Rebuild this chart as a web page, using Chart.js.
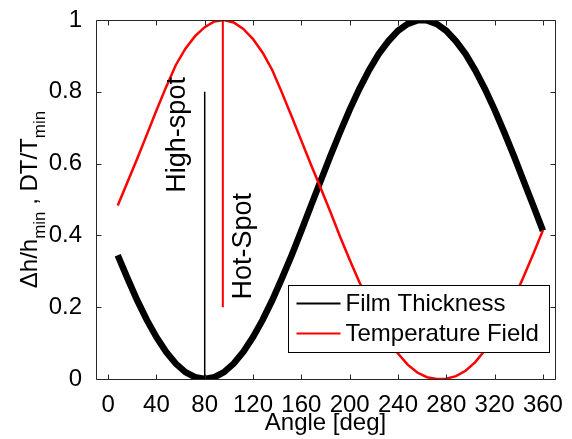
<!DOCTYPE html>
<html>
<head>
<meta charset="utf-8">
<script src="https://cdn.jsdelivr.net/npm/chart.js@4.4.0/dist/chart.umd.min.js"></script>
<style>
    body { margin: 0; background: #fff; }
</style>
</head>
<body>
<canvas id="thicknessChart" width="572" height="439"></canvas>
<script>
// --- DATA ---
const angles = [8, 16, 24, 32, 40, 48, 56, 64, 72, 80, 88, 96, 104, 112, 120, 128, 136, 144, 152, 160,
    168, 176, 184, 192, 200, 208, 216, 224, 232, 240, 248, 256, 264, 272, 280, 288, 296, 304, 312, 320,
    328, 336, 344, 352, 360];
const filmThickness = [0.345, 0.281, 0.220, 0.165, 0.117, 0.076, 0.043, 0.019, 0.005, 0.000, 0.005, 0.019,
    0.043, 0.076, 0.117, 0.165, 0.220, 0.281, 0.345, 0.413, 0.483, 0.552, 0.621, 0.687, 0.750, 0.808,
    0.860, 0.905, 0.941, 0.970, 0.989, 0.999, 0.999, 0.989, 0.970, 0.941, 0.905, 0.860, 0.808, 0.750,
    0.687, 0.621, 0.552, 0.483, 0.413];
const temperatureField = [0.483, 0.548, 0.613, 0.680, 0.748, 0.813, 0.874, 0.920, 0.955, 0.980, 0.996, 1.000,
    0.993, 0.975, 0.947, 0.909, 0.860, 0.797, 0.731, 0.664, 0.597, 0.532, 0.466, 0.397, 0.332, 0.270,
    0.211, 0.157, 0.110, 0.071, 0.040, 0.018, 0.005, 0.000, 0.001, 0.008, 0.023, 0.047, 0.080, 0.121,
    0.170, 0.225, 0.285, 0.348, 0.414];
const highSpotX = [80, 80];
const highSpotY = [0, 0.8];
const hotSpotX = [95, 95];
const hotSpotY = [0.2, 1];
const xTicks = [0, 40, 80, 120, 160, 200, 240, 280, 320, 360];
const yTicks = [0, 0.2, 0.4, 0.6, 0.8, 1];
const yTickLabels = ['0', '0.2', '0.4', '0.6', '0.8', '1'];

const FONT = 'Liberation Sans, Arial, sans-serif';

function pairs(xs, ys) {
    return xs.map((x, i) => ({ x: x, y: ys[i] }));
}

// --- box with inward ticks on all four sides ---
const frame = {
    id: 'frame',
    afterDatasetsDraw(chart) {
        const { ctx, chartArea: a, scales: { x, y } } = chart;
        const l = Math.round(a.left) + 0.5, r = Math.round(a.right) + 0.5;
        const t = Math.round(a.top) + 0.5, b = Math.round(a.bottom) + 0.5;
        ctx.save();
        ctx.strokeStyle = '#262626';
        ctx.lineWidth = 1;
        ctx.beginPath();
        ctx.rect(l, t, r - l, b - t);
        xTicks.forEach(v => {
            const px = Math.round(x.getPixelForValue(v)) + 0.5;
            ctx.moveTo(px, b); ctx.lineTo(px, b - 5);
            ctx.moveTo(px, t); ctx.lineTo(px, t + 5);
        });
        yTicks.forEach(v => {
            const py = Math.round(y.getPixelForValue(v)) + 0.5;
            ctx.moveTo(l, py); ctx.lineTo(l + 5, py);
            ctx.moveTo(r, py); ctx.lineTo(r - 5, py);
        });
        ctx.stroke();

        // rotated notes next to the two marker lines
        const notes = [
            { text: 'High-spot', x: 64, y: 0.68 },
            { text: 'Hot-Spot', x: 118, y: 0.37 }
        ];
        ctx.fillStyle = '#000';
        ctx.font = '27px ' + FONT;
        ctx.textAlign = 'center';
        ctx.textBaseline = 'alphabetic';
        notes.forEach(n => {
            ctx.save();
            ctx.translate(x.getPixelForValue(n.x), y.getPixelForValue(n.y));
            ctx.rotate(-Math.PI / 2);
            ctx.fillText(n.text, 0, 0);
            ctx.restore();
        });
        ctx.restore();
    }
};

// --- legend box inside the plot, bottom right ---
const boxLegend = {
    id: 'boxLegend',
    afterDraw(chart) {
        const ctx = chart.ctx;
        const bx = 288.5, by = 285.5, bw = 261, bh = 67;
        ctx.save();
        ctx.fillStyle = '#fff';
        ctx.fillRect(bx, by, bw, bh);
        ctx.strokeStyle = '#000';
        ctx.lineWidth = 1;
        ctx.strokeRect(bx, by, bw, bh);
        ctx.font = '24px ' + FONT;
        ctx.textBaseline = 'middle';
        chart.data.datasets.filter(d => d.label).forEach((d, i) => {
            const ly = by + 18 + i * 30;
            ctx.strokeStyle = d.borderColor;
            ctx.lineWidth = 2;
            ctx.beginPath();
            ctx.moveTo(bx + 8, ly);
            ctx.lineTo(bx + 52, ly);
            ctx.stroke();
            ctx.fillStyle = '#000';
            ctx.fillText(d.label, bx + 57, ly + 1);
        });
        ctx.restore();
    }
};

// --- y title with subscripts ---
const yTitle = {
    id: 'yTitle',
    afterDraw(chart) {
        const ctx = chart.ctx;
        const parts = [['\u0394h/h', false], ['min', true], [' , DT/T', false], ['min', true]];
        const mainFont = '24px ' + FONT, subFont = '17px ' + FONT;
        ctx.save();
        let total = 0;
        parts.forEach(p => { ctx.font = p[1] ? subFont : mainFont; total += ctx.measureText(p[0]).width; });
        ctx.translate(37, (chart.chartArea.top + chart.chartArea.bottom) / 2);
        ctx.rotate(-Math.PI / 2);
        ctx.fillStyle = '#000';
        ctx.textBaseline = 'alphabetic';
        let pos = -total / 2;
        parts.forEach(p => {
            ctx.font = p[1] ? subFont : mainFont;
            ctx.fillText(p[0], pos, p[1] ? 8 : 0);
            pos += ctx.measureText(p[0]).width;
        });
        ctx.restore();
    }
};

document.addEventListener('DOMContentLoaded', function() {
    const ctx = document.getElementById('thicknessChart').getContext('2d');
    new Chart(ctx, {
        type: 'scatter',
        data: {
            datasets: [{
                label: 'Film Thickness',
                data: pairs(angles, filmThickness),
                showLine: true,
                borderColor: '#000000',
                borderWidth: 6.5,
                pointRadius: 0,
                clip: 0,
                order: 3
            }, {
                label: 'Temperature Field',
                data: pairs(angles, temperatureField),
                showLine: true,
                borderColor: '#ff0000',
                borderWidth: 2.5,
                pointRadius: 0,
                clip: 0,
                order: 2
            }, {
                data: pairs(highSpotX, highSpotY),
                showLine: true,
                borderColor: '#000000',
                borderWidth: 1.5,
                pointRadius: 0,
                order: 1
            }, {
                data: pairs(hotSpotX, hotSpotY),
                showLine: true,
                borderColor: '#ff0000',
                borderWidth: 2,
                pointRadius: 0,
                order: 0
            }]
        },
        options: {
            responsive: false,
            animation: false,
            layout: { padding: { top: 20, right: 17, left: 0, bottom: 0 } },
            plugins: { legend: { display: false }, tooltip: { enabled: false } },
            scales: {
                x: {
                    type: 'linear',
                    min: -10,
                    max: 370,
                    grid: { display: false },
                    border: { display: false },
                    afterBuildTicks: function(s) { s.ticks = xTicks.map(v => ({ value: v })); },
                    ticks: { color: '#000', font: { size: 24, family: FONT }, padding: 4, maxRotation: 0, autoSkip: false },
                    title: { display: true, text: 'Angle [deg]', color: '#000', font: { size: 24, family: FONT }, padding: { top: 0, bottom: 1 } },
                    afterFit: function(s) { s.height = 60; s.paddingLeft = 0; s.paddingRight = 0; }
                },
                y: {
                    type: 'linear',
                    min: 0,
                    max: 1,
                    grid: { display: false },
                    border: { display: false },
                    afterBuildTicks: function(s) { s.ticks = yTicks.map(v => ({ value: v })); },
                    ticks: {
                        color: '#000',
                        font: { size: 24, family: FONT },
                        padding: 6,
                        callback: function(value, index) { return yTickLabels[index]; }
                    },
                    afterFit: function(s) { s.width = 96; s.paddingTop = 0; s.paddingBottom = 0; }
                }
            }
        },
        plugins: [frame, boxLegend, yTitle]
    });
});
</script>
</body>
</html>
